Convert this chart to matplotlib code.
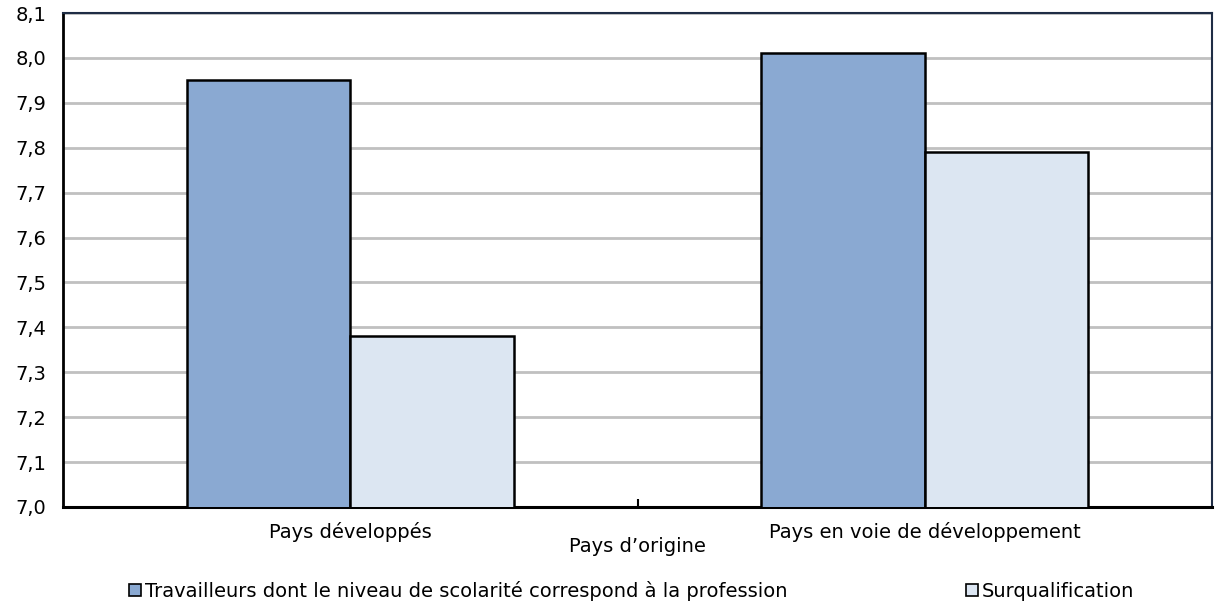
import numpy as np
import matplotlib.pyplot as plt
from matplotlib.ticker import FuncFormatter, FixedLocator
from matplotlib.patches import Patch

categories = ["Pays développés", "Pays en voie de développement"]
series_names = ["Travailleurs dont le niveau de scolarité correspond à la profession",
                "Surqualification"]
matched = [7.95, 8.01]
overqualified = [7.38, 7.79]
colors = ["#8AA9D2", "#DCE6F2"]

plt.rcParams['font.family'] = ['DejaVu Sans']
fs = 14

fig = plt.figure(figsize=(12.22, 6.05), dpi=100)
ax = fig.add_axes([63 / 1222, 1 - 507 / 605, (1212 - 63) / 1222, (507 - 13) / 605])

x = np.arange(len(categories))
w = 0.285
ax.bar(x - w / 2, matched, w, color=colors[0], edgecolor="black", linewidth=1.8, zorder=3)
ax.bar(x + w / 2, overqualified, w, color=colors[1], edgecolor="black", linewidth=1.8, zorder=3)

ax.set_ylim(7.0, 8.1)
ax.set_xlim(-0.5, 1.5)
ax.set_yticks(np.arange(7.0, 8.101, 0.1))
ax.yaxis.set_major_formatter(FuncFormatter(lambda v, p: f"{v:.1f}".replace(".", ",")))
ax.yaxis.grid(True, color="#C0C0C0", linewidth=2)
ax.set_axisbelow(True)

ax.set_xticks(x)
ax.set_xticklabels(categories)
ax.tick_params(axis="x", length=0, labelsize=fs, pad=11)
ax.xaxis.set_minor_locator(FixedLocator([0.5]))
ax.tick_params(axis="x", which="minor", direction="in", length=6, width=1.5, color="black")
ax.tick_params(axis="y", length=0, labelsize=fs, pad=12)

for side in ["top", "right"]:
    ax.spines[side].set_color("#1F2D45")
    ax.spines[side].set_linewidth(1.5)
ax.spines["left"].set_linewidth(2)
ax.spines["bottom"].set_linewidth(2.2)

ax.set_xlabel("Pays d\u2019origine", fontsize=fs, labelpad=-4)

handles = [Patch(facecolor=c, edgecolor="black", linewidth=1.2) for c in colors]
fig.legend(handles, series_names, loc="center", bbox_to_anchor=(0.517, 1 - 591 / 605),
           ncol=2, frameon=False, fontsize=fs, handlelength=0.6, handleheight=0.6,
           handletextpad=0.2, columnspacing=9.2)

fig.savefig("out.png", dpi=100)
